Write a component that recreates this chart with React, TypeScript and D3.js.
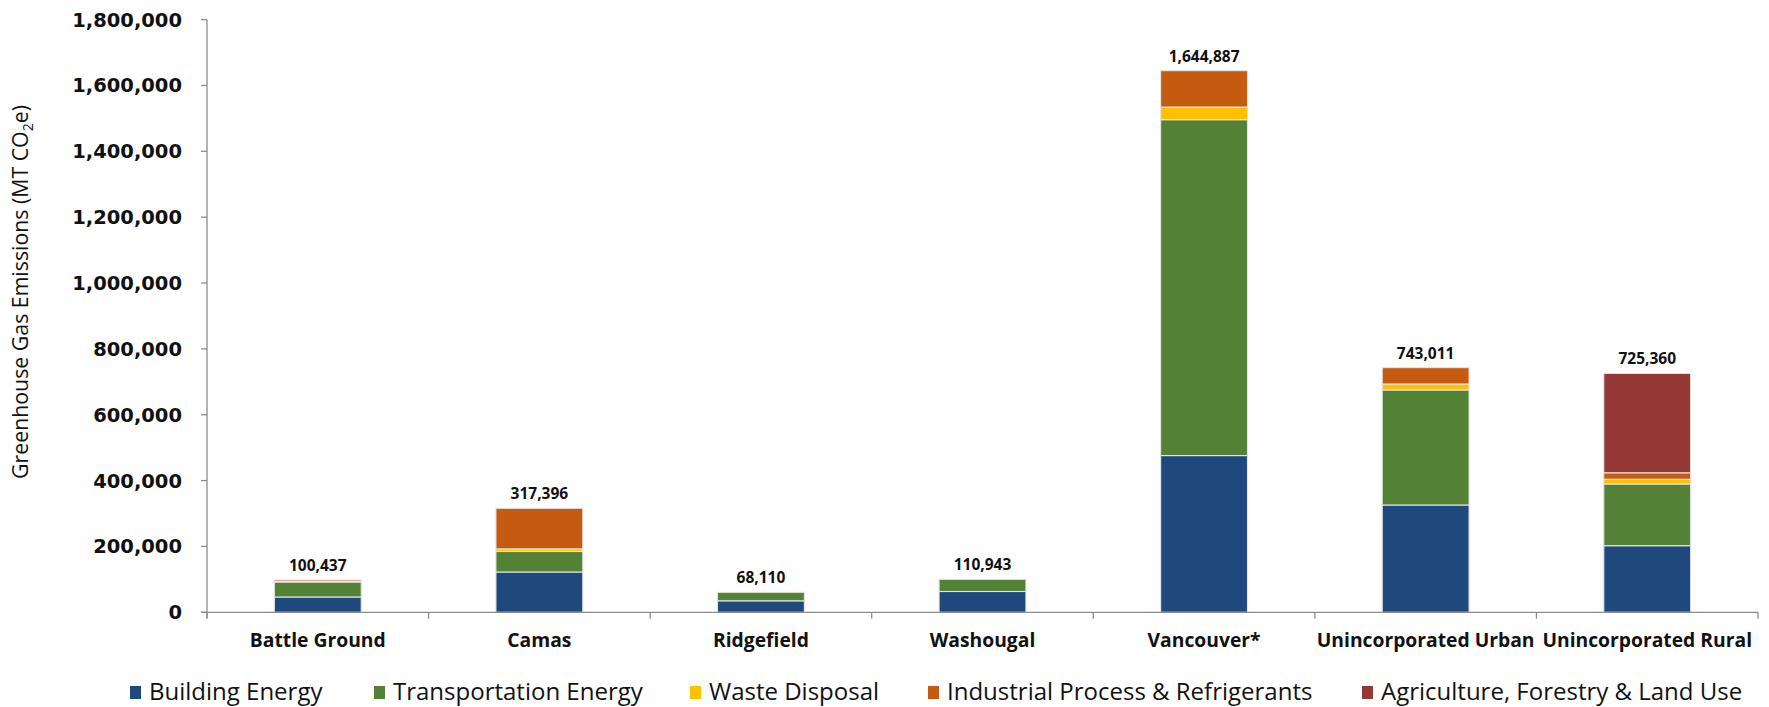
import React from "react";
import * as d3 from "d3";

const categories = [
  "Battle Ground",
  "Camas",
  "Ridgefield",
  "Washougal",
  "Vancouver*",
  "Unincorporated Urban",
  "Unincorporated Rural",
];
const buildingEnergy = [46500, 122400, 34900, 63200, 476000, 325900, 202300];
const transportationEnergy = [45500, 62300, 25800, 37000, 1020000, 349300, 187400];
const wasteDisposal = [1500, 8000, 0, 0, 38500, 18200, 14300];
const industrialProcess = [4500, 123100, 0, 0, 110400, 49600, 19700];
const agricultureForestry = [0, 0, 0, 0, 0, 0, 301700];
const totalLabels = ["100,437", "317,396", "68,110", "110,943", "1,644,887", "743,011", "725,360"];
const yTicks = [0, 200000, 400000, 600000, 800000, 1000000, 1200000, 1400000, 1600000, 1800000];

const seriesNames = [
  "Building Energy",
  "Transportation Energy",
  "Waste Disposal",
  "Industrial Process & Refrigerants",
  "Agriculture, Forestry & Land Use",
];
const seriesColors = ["#1F497D", "#538135", "#FFC000", "#C55A11", "#953735"];
const seriesValues = [buildingEnergy, transportationEnergy, wasteDisposal, industrialProcess, agricultureForestry];

const W = 1769;
const H = 707;
const legendTextX = [149, 393, 709, 947, 1381];

export default function App() {
  const x = d3.scaleBand<string>().domain(categories).range([207, 1758]).padding(0);
  const y = d3.scaleLinear().domain([0, 1800000]).range([612.3, 19.6]);
  const barW = x.bandwidth() * 0.392;

  const rows = categories.map((c, i) => {
    const r: any = { cat: c };
    seriesNames.forEach((s, k) => (r[s] = seriesValues[k][i]));
    return r;
  });
  const stacked = d3.stack<any>().keys(seriesNames)(rows);

  const axisColor = "#8c8c8c";
  const boundaries = [...categories.map((c) => x(c)!), x(categories[categories.length - 1])! + x.bandwidth()];

  return (
    <div style={{ position: "absolute", left: 0, top: 0 }}>
      <svg width={W} height={H} style={{ display: "block", background: "#fff" }}>
        {/* bars */}
        {stacked.map((layer, k) => (
          <g key={layer.key} fill={seriesColors[k]}>
            {layer.map((d, i) => {
              const h = y(d[0]) - y(d[1]);
              if (h <= 0) return null;
              return (
                <rect
                  key={i}
                  x={x(categories[i])! + (x.bandwidth() - barW) / 2}
                  y={y(d[1])}
                  width={barW}
                  height={h}
                  stroke="#e4e4e4"
                  strokeWidth={1.1}
                />
              );
            })}
          </g>
        ))}

        {/* axes */}
        <line x1={207} x2={207} y1={y(1800000)} y2={y(0) + 6} stroke={axisColor} strokeWidth={1.3} />
        <line x1={201} x2={1758} y1={y(0)} y2={y(0)} stroke={axisColor} strokeWidth={1.3} />
        {yTicks.map((t) => (
          <g key={t}>
            <line x1={201} x2={207} y1={y(t)} y2={y(t)} stroke={axisColor} strokeWidth={1.3} />
            <text
              x={182}
              y={y(t)}
              dy="0.36em"
              textAnchor="end"
              fontFamily="DejaVu Sans"
              fontWeight="bold"
              fontSize={19.5}
              fill="#111"
            >
              {d3.format(",")(t)}
            </text>
          </g>
        ))}
        {boundaries.map((b, i) => (
          <line key={i} x1={b} x2={b} y1={y(0)} y2={y(0) + 6.5} stroke={axisColor} strokeWidth={1.3} />
        ))}

        {/* category labels */}
        {categories.map((c) => (
          <text
            key={c}
            x={x(c)! + x.bandwidth() / 2}
            y={647}
            textAnchor="middle"
            fontFamily="Open Sans"
            fontWeight="bold"
            fontSize={19.3}
            fill="#111"
          >
            {c}
          </text>
        ))}

        {/* total labels */}
        {categories.map((c, i) => {
          const top = stacked[stacked.length - 1][i][1];
          return (
            <text
              key={c}
              x={x(c)! + x.bandwidth() / 2}
              y={y(top) - 9}
              textAnchor="middle"
              fontFamily="Open Sans"
              fontWeight="bold"
              fontSize={15.5}
              fill="#111"
            >
              {totalLabels[i]}
            </text>
          );
        })}

        {/* y axis title */}
        <text
          transform={`translate(28, 292) rotate(-90)`}
          textAnchor="middle"
          fontFamily="Open Sans"
          fontSize={21.3}
          fill="#111"
        >
          Greenhouse Gas Emissions (MT CO
          <tspan fontSize={14} dy={5}>2</tspan>
          <tspan dy={-5}>e)</tspan>
        </text>

        {/* legend */}
        {seriesNames.map((s, k) => (
          <g key={s}>
            <rect x={legendTextX[k] - 19} y={686} width={11} height={13} fill={seriesColors[k]} />
            <text x={legendTextX[k]} y={700} fontFamily="Open Sans" fontSize={24} fill="#111">
              {s}
            </text>
          </g>
        ))}
      </svg>
    </div>
  );
}
